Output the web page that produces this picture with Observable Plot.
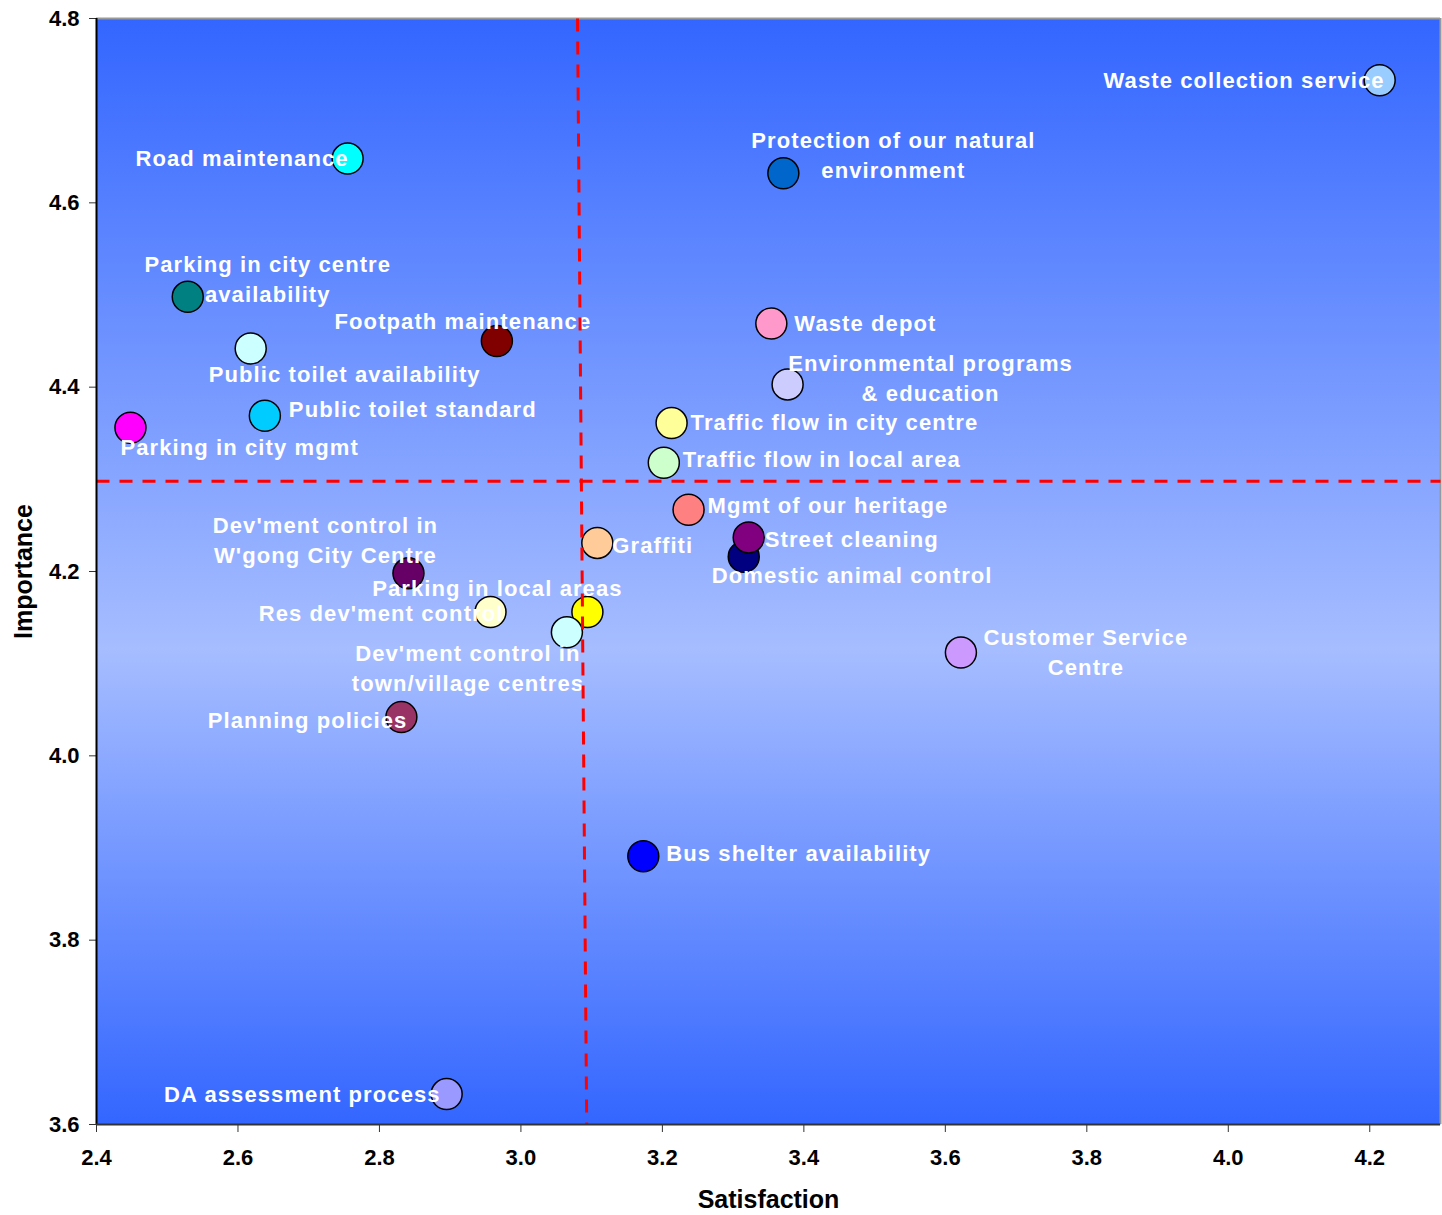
<!DOCTYPE html>
<html><head><meta charset="utf-8">
<script src="https://cdn.jsdelivr.net/npm/d3@7"></script>
<script src="https://cdn.jsdelivr.net/npm/@observablehq/plot@0.6"></script>
<style>
body{margin:0;background:#fff;}
#chart svg g[aria-label="text"][fill="white"] text { letter-spacing: 1.1px; }
</style></head><body><div id="chart"></div>
<script>
const items = [
  "Waste collection service",
  "Protection of our natural\nenvironment",
  "Road maintenance",
  "Parking in city centre\navailability",
  "Public toilet availability",
  "Footpath maintenance",
  "Waste depot",
  "Environmental programs\n& education",
  "Public toilet standard",
  "Parking in city mgmt",
  "Traffic flow in city centre",
  "Traffic flow in local area",
  "Mgmt of our heritage",
  "Domestic animal control",
  "Street cleaning",
  "Graffiti",
  "Dev'ment control in\nW'gong City Centre",
  "Res dev'ment control",
  "Parking in local areas",
  "Dev'ment control in\ntown/village centres",
  "Customer Service\nCentre",
  "Planning policies",
  "Bus shelter availability",
  "DA assessment process"
];
const satisfaction = [4.214, 3.371, 2.755, 2.529, 2.618, 2.966, 3.354, 3.377, 2.638, 2.448, 3.213, 3.202, 3.237, 3.315, 3.322, 3.108, 2.841, 2.957, 3.094, 3.065, 3.622, 2.831, 3.173, 2.895];
const importance   = [4.733, 4.632, 4.648, 4.498, 4.442, 4.450, 4.469, 4.403, 4.369, 4.356, 4.361, 4.318, 4.267, 4.216, 4.237, 4.231, 4.198, 4.156, 4.156, 4.134, 4.112, 4.042, 3.891, 3.633];
const pointColors = ["#99CCFF","#0066CC","#00FFFF","#008080","#CCFFFF","#800000","#FF99CC","#CCCCFF","#00CCFF","#FF00FF","#FFFF99","#CCFFCC","#FF8080","#000080","#800080","#FFCC99","#660066","#FFFFCC","#FFFF00","#CCFFFF","#CC99FF","#993366","#0000FF","#9999FF"];

const xTicks = [2.4, 2.6, 2.8, 3.0, 3.2, 3.4, 3.6, 3.8, 4.0, 4.2];
const yTicks = [3.6, 3.8, 4.0, 4.2, 4.4, 4.6, 4.8];
const xDomain = [2.4, 4.3];
const yDomain = [3.6, 4.8];
const xTitle = "Satisfaction";
const yTitle = "Importance";
// mean lines (the satisfaction line is slightly slanted in the source)
const satisfactionCut = [{x1: 3.080, y1: 4.8, x2: 3.093, y2: 3.6}];
const importanceCut = [{x1: 2.4, y1: 4.298, x2: 4.3, y2: 4.298}];

// label placement (layout only)
const labelLayout = [
  ["end", 5, -2], ["middle", 110, -20], ["end", 1, -2], ["middle", 80, -19],
  ["middle", 94, 24], ["middle", -34, -22], ["start", 23, -2], ["middle", 143, -8],
  ["start", 24, -8], ["start", -10, 18], ["start", 19, -3], ["start", 19, -5],
  ["start", 19, -6], ["start", -32, 17], ["start", 16, 0], ["start", 15, 0],
  ["middle", -83, -35], ["end", 13, -1], ["middle", -90, -26], ["middle", -99, 34],
  ["middle", 125, -2], ["end", 6, 1], ["start", 23, -5], ["end", -6, -2]
];

const idx = d3.range(items.length);
const font = "Liberation Sans, Arial, sans-serif";

const labelMarks = labelLayout.map(([anchor, dx, dy], i) =>
  Plot.text([i], {
    x: j => satisfaction[j], y: j => importance[j], text: j => items[j],
    textAnchor: anchor, lineAnchor: "middle", dx, dy, lineHeight: 1.36,
    fill: "white", fontSize: 22, fontWeight: "bold", fontFamily: font
  })
);

const chart = Plot.plot({
  width: 1442, height: 1215,
  marginTop: 18, marginRight: 2, marginBottom: 91, marginLeft: 96,
  style: {fontFamily: font, background: "white"},
  x: {domain: xDomain},
  y: {domain: yDomain},
  marks: [
    Plot.frame({fill: "url(#bgGrad)"}),
    Plot.ruleY([yDomain[1]], {stroke: "#999", strokeWidth: 2}),
    Plot.ruleX([xDomain[1]], {stroke: "#999", strokeWidth: 2}),
    Plot.axisX(xTicks, {tickSize: 8, tickPadding: 17, fontSize: 22, fontWeight: "bold", fill: "black", stroke: "#333", tickFormat: d => d.toFixed(1), label: null}),
    Plot.axisY(yTicks, {tickSize: 7, tickPadding: 10, fontSize: 22, fontWeight: "bold", fill: "black", stroke: "#333", tickFormat: d => d.toFixed(1), label: null}),
    Plot.dot(idx, {x: i => satisfaction[i], y: i => importance[i], r: 15.5, fill: i => pointColors[i], stroke: "black", strokeWidth: 1.5}),
    ...labelMarks,
    Plot.link(satisfactionCut, {x1: "x1", y1: "y1", x2: "x2", y2: "y2", stroke: "#FF0000", strokeWidth: 3, strokeDasharray: "13,10"}),
    Plot.link(importanceCut, {x1: "x1", y1: "y1", x2: "x2", y2: "y2", stroke: "#FF0000", strokeWidth: 3, strokeDasharray: "13,10"}),
    Plot.ruleX([xDomain[0]], {stroke: "black", strokeWidth: 2, y1: yDomain[0], y2: yDomain[1]}),
    Plot.ruleY([yDomain[0]], {stroke: "#333", strokeWidth: 2}),
    Plot.text([xTitle], {frameAnchor: "bottom", textAnchor: "middle", lineAnchor: "middle", dy: 75, fontSize: 25, fontWeight: "bold", fill: "black", fontFamily: font}),
    Plot.text([yTitle], {frameAnchor: "left", textAnchor: "middle", rotate: -90, lineAnchor: "middle", dx: -73, fontSize: 25, fontWeight: "bold", fill: "black", fontFamily: font})
  ]
});

const svg = d3.select(chart);
const defs = svg.insert("defs", ":first-child");
const grad = defs.append("linearGradient").attr("id", "bgGrad").attr("x1", 0).attr("y1", 0).attr("x2", 0).attr("y2", 1);
grad.append("stop").attr("offset", "0%").attr("stop-color", "#3366FF");
grad.append("stop").attr("offset", "57%").attr("stop-color", "#A6BDFF");
grad.append("stop").attr("offset", "100%").attr("stop-color", "#3366FF");

document.getElementById("chart").appendChild(chart);
</script></body></html>
